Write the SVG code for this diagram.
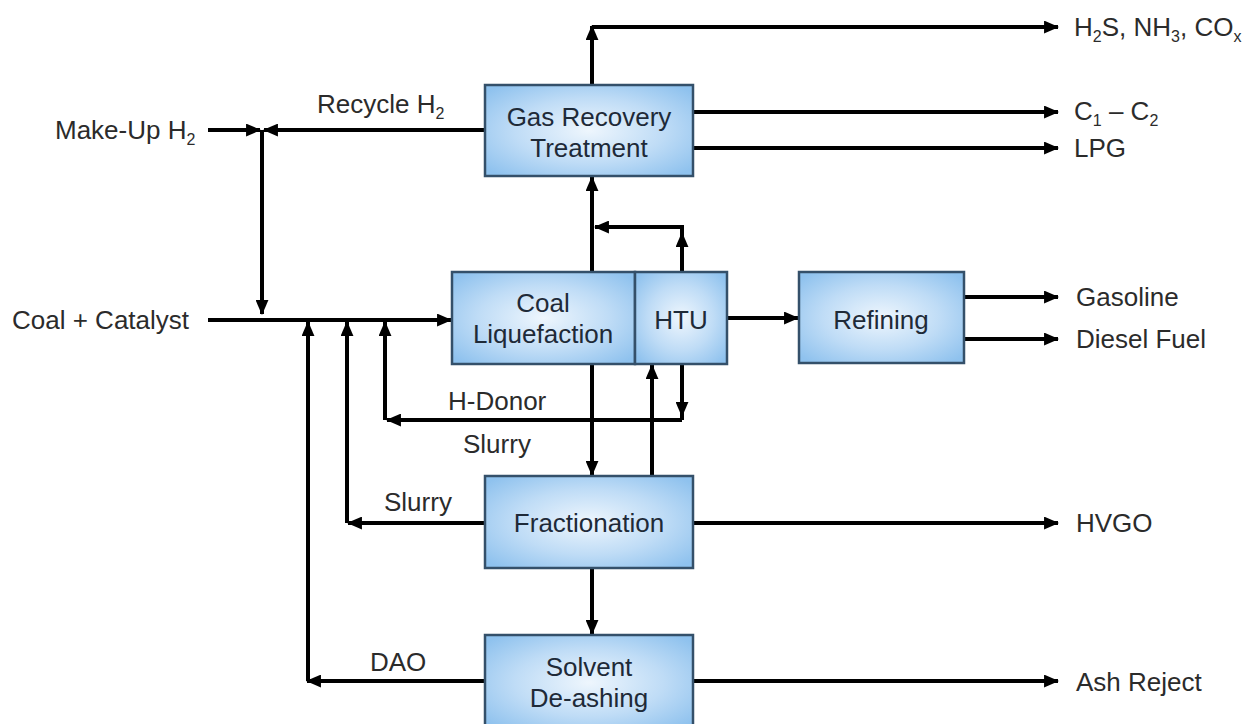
<svg xmlns="http://www.w3.org/2000/svg" width="1248" height="724" viewBox="0 0 1248 724">
<defs>
<radialGradient id="boxfill" cx="50%" cy="50%" r="65%">
<stop offset="0" stop-color="#eef6fd"/>
<stop offset="0.55" stop-color="#bfdcf6"/>
<stop offset="1" stop-color="#8fc2ee"/>
</radialGradient>
<marker id="ah" viewBox="0 0 14 12" refX="13" refY="6" markerWidth="15" markerHeight="13" markerUnits="userSpaceOnUse" orient="auto">
<path d="M0,0 L14,6 L0,12 Z" fill="#000"/>
</marker>
<style>
.box{fill:url(#boxfill);stroke:#34506a;stroke-width:2.5}
.ln{fill:none;stroke:#000;stroke-width:4}
.arr{fill:none;stroke:#000;stroke-width:4;marker-end:url(#ah)}
.bt{font-family:"Liberation Sans",Arial,sans-serif;font-size:26px;fill:#1e2a38;text-anchor:middle}
.lt{font-family:"Liberation Sans",Arial,sans-serif;font-size:26px;fill:#2b2b2b}
.sub{font-size:16px}
</style>
</defs>
<rect width="1248" height="724" fill="#fff"/>

<g id="connectors">
<path class="arr" d="M592,85 V26"/>
<path class="arr" d="M592,27 H1058"/>
<path class="arr" d="M694,112 H1058"/>
<path class="arr" d="M694,148 H1058"/>
<path class="arr" d="M208,130 H260"/>
<path class="arr" d="M485,130 H264"/>
<path class="arr" d="M262,130 V314"/>
<path class="arr" d="M208,320 H451"/>
<path class="arr" d="M592,272 V177"/>
<path class="arr" d="M682,272 V233"/>
<path class="arr" d="M682,233 V227 H595"/>
<path class="arr" d="M727,318 H798"/>
<path class="arr" d="M964,297 H1058"/>
<path class="arr" d="M964,339 H1058"/>
<path class="arr" d="M592,364 V475"/>
<path class="arr" d="M652,476 V365"/>
<path class="arr" d="M682,364 V416"/>
<path class="ln" d="M682,414 V420"/>
<path class="arr" d="M682,420 H387"/>
<path class="arr" d="M385,420 V322"/>
<path class="arr" d="M485,523 H348"/>
<path class="arr" d="M347,523 V322"/>
<path class="arr" d="M694,523 H1058"/>
<path class="arr" d="M592,568 V634"/>
<path class="arr" d="M485,681 H307"/>
<path class="arr" d="M308,681 V322"/>
<path class="arr" d="M694,681 H1058"/>
</g>

<g id="gas-recovery">
<rect class="box" x="485" y="85" width="208" height="91"/>
<text class="bt" x="589" y="126">Gas Recovery</text>
<text class="bt" x="589" y="157">Treatment</text>
</g>
<g id="coal-liquefaction">
<rect class="box" x="452" y="272" width="183" height="92"/>
<text class="bt" x="543" y="312">Coal</text>
<text class="bt" x="543" y="343">Liquefaction</text>
</g>
<g id="htu">
<rect class="box" x="635" y="272" width="92" height="92"/>
<text class="bt" x="681" y="329">HTU</text>
</g>
<g id="refining">
<rect class="box" x="799" y="272" width="165" height="91"/>
<text class="bt" x="881" y="329">Refining</text>
</g>
<g id="fractionation">
<rect class="box" x="485" y="476" width="208" height="92"/>
<text class="bt" x="589" y="532">Fractionation</text>
</g>
<g id="solvent-deashing">
<rect class="box" x="485" y="635" width="208" height="95"/>
<text class="bt" x="589" y="676">Solvent</text>
<text class="bt" x="589" y="707">De-ashing</text>
</g>

<g id="labels">
<text class="lt" x="55" y="139">Make-Up H<tspan class="sub" dy="6">2</tspan></text>
<text class="lt" x="317" y="113">Recycle H<tspan class="sub" dy="6">2</tspan></text>
<text class="lt" x="12" y="329">Coal + Catalyst</text>
<text class="lt" x="1074" y="36">H<tspan class="sub" dy="6">2</tspan><tspan dy="-6">S, NH</tspan><tspan class="sub" dy="6">3</tspan><tspan dy="-6">, CO</tspan><tspan class="sub" dy="6">x</tspan></text>
<text class="lt" x="1074" y="120">C<tspan class="sub" dy="6">1</tspan><tspan dy="-6"> – C</tspan><tspan class="sub" dy="6">2</tspan></text>
<text class="lt" x="1074" y="157">LPG</text>
<text class="lt" x="1076" y="306">Gasoline</text>
<text class="lt" x="1076" y="348">Diesel Fuel</text>
<text class="lt" x="1076" y="532">HVGO</text>
<text class="lt" x="1076" y="691">Ash Reject</text>
<text class="lt" x="448" y="410">H-Donor</text>
<text class="lt" x="463" y="453">Slurry</text>
<text class="lt" x="384" y="511">Slurry</text>
<text class="lt" x="370" y="671">DAO</text>
</g>
</svg>
